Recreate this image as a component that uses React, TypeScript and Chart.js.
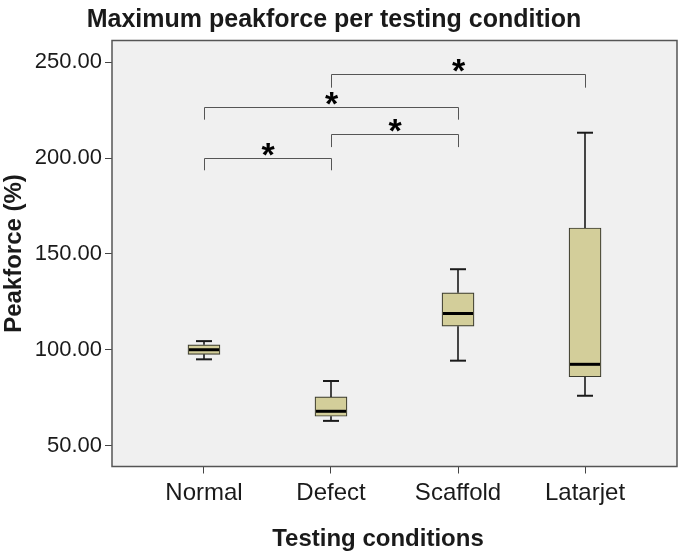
import React, { useEffect, useRef } from 'react';
import { Chart, registerables } from 'chart.js';

Chart.register(...registerables);

// ---- data ----
const categories = ['Normal', 'Defect', 'Scaffold', 'Latarjet'];
const whiskerLow = [95.0, 62.9, 94.3, 76.0];
const q1 = [97.6, 65.3, 112.3, 85.9];
const medians = [100.0, 67.9, 118.9, 92.4];
const q3 = [102.6, 75.4, 129.7, 163.5];
const whiskerHigh = [104.5, 83.7, 142.0, 213.2];
const yTicks = [50, 100, 150, 200, 250];
const yMin = 39.1;
const yMax = 261.3;

// significance brackets (category indices and y values)
const bracketFrom = [0, 1, 0, 1];
const bracketTo = [1, 2, 2, 3];
const bracketLevel = [200.2, 212.3, 226.8, 243.7];
const bracketLegEnd = [193.6, 205.7, 220.0, 236.7];
const bracketMark = ['*', '*', '*', '*'];

const titleText = 'Maximum peakforce per testing condition';
const xTitleText = 'Testing conditions';
const yTitleText = 'Peakforce (%)';

const FONT = '"Liberation Sans", Arial, sans-serif';
const TEXT = '#1a1a1a';

const boxPlugin = {
  id: 'boxExtras',
  beforeDraw(chart: any) {
    const { ctx, chartArea: a } = chart;
    ctx.save();
    ctx.fillStyle = '#f0f0f0';
    ctx.fillRect(a.left, a.top, a.right - a.left, a.bottom - a.top);
    ctx.restore();
  },
  afterDatasetsDraw(chart: any) {
    const { ctx } = chart;
    const xs = chart.scales.x;
    const ys = chart.scales.y;
    const line = (x1: number, y1: number, x2: number, y2: number) => {
      ctx.beginPath();
      ctx.moveTo(x1, y1);
      ctx.lineTo(x2, y2);
      ctx.stroke();
    };
    ctx.save();
    categories.forEach((_, i) => {
      const cx = Math.round(xs.getPixelForValue(i));
      const half = 16;
      const cap = 8;
      const yq1 = ys.getPixelForValue(q1[i]);
      const yq3 = ys.getPixelForValue(q3[i]);
      const ylo = ys.getPixelForValue(whiskerLow[i]);
      const yhi = ys.getPixelForValue(whiskerHigh[i]);
      const ym = ys.getPixelForValue(medians[i]);
      ctx.strokeStyle = '#1a1a1a';
      ctx.lineWidth = 1.6;
      line(cx, yq3, cx, yhi);
      line(cx, yq1, cx, ylo);
      ctx.lineWidth = 2;
      line(cx - cap, yhi, cx + cap, yhi);
      line(cx - cap, ylo, cx + cap, ylo);
      ctx.strokeStyle = '#000';
      ctx.lineWidth = 3;
      line(cx - half + 1, ym, cx + half - 1, ym);
    });

    // brackets
    ctx.strokeStyle = '#555';
    ctx.lineWidth = 1;
    ctx.font = `bold 34px ${FONT}`;
    ctx.fillStyle = '#000';
    ctx.textAlign = 'center';
    ctx.textBaseline = 'alphabetic';
    bracketFrom.forEach((f, k) => {
      const x1 = Math.round(xs.getPixelForValue(f)) + 0.5;
      const x2 = Math.round(xs.getPixelForValue(bracketTo[k])) + 0.5;
      const yl = Math.round(ys.getPixelForValue(bracketLevel[k])) + 0.5;
      const ye = ys.getPixelForValue(bracketLegEnd[k]);
      ctx.beginPath();
      ctx.moveTo(x1, ye);
      ctx.lineTo(x1, yl);
      ctx.lineTo(x2, yl);
      ctx.lineTo(x2, ye);
      ctx.stroke();
      const m = ctx.measureText(bracketMark[k]);
      const asc = m.actualBoundingBoxAscent;
      const desc = m.actualBoundingBoxDescent;
      const cy = yl - 9;
      const baseline = cy + (asc - desc) / 2;
      ctx.fillText(bracketMark[k], (x1 + x2) / 2, baseline);
    });
    ctx.restore();
  },
  afterDraw(chart: any) {
    const { ctx, chartArea: a } = chart;
    ctx.save();
    ctx.strokeStyle = '#555';
    ctx.lineWidth = 1.5;
    ctx.strokeRect(a.left, a.top, a.right - a.left, a.bottom - a.top);

    ctx.fillStyle = TEXT;
    ctx.textAlign = 'center';
    ctx.textBaseline = 'alphabetic';
    ctx.font = `bold 25px ${FONT}`;
    ctx.fillText(titleText, 334, 27);
    ctx.font = `bold 24px ${FONT}`;
    ctx.fillText(xTitleText, 378, 546);
    ctx.restore();
  },
};

export default function App() {
  const ref = useRef<HTMLCanvasElement | null>(null);
  useEffect(() => {
    const canvas = ref.current;
    if (!canvas) return;
    const chart = new Chart(canvas, {
      type: 'bar',
      data: {
        datasets: [
          {
            data: categories.map((_, i) => ({ x: i, y: [q1[i], q3[i]] })) as any,
            backgroundColor: '#d3ce9a',
            borderColor: '#3b3b2e',
            borderWidth: 1.2,
            borderSkipped: false,
            barThickness: 32,
          } as any,
        ],
      },
      options: {
        animation: false,
        responsive: false,
        devicePixelRatio: 1,
        layout: { padding: { top: 40.5, right: 3, left: 0, bottom: 0 } },
        plugins: {
          legend: { display: false },
          tooltip: { enabled: false },
          title: { display: false },
        },
        scales: {
          x: {
            type: 'linear',
            min: -0.724,
            max: 3.724,
            offset: false,
            afterBuildTicks: (s: any) => {
              s.ticks = categories.map((_, i) => ({ value: i }));
            },
            afterFit: (s: any) => {
              s.height = 86.5;
            },
            ticks: {
              callback: (v: any) => categories[v] ?? '',
              font: { family: FONT, size: 24 },
              color: TEXT,
              padding: 5,
              autoSkip: false,
              maxRotation: 0,
            },
            grid: {
              display: true,
              offset: false,
              drawOnChartArea: false,
              drawTicks: true,
              tickLength: 7,
              tickColor: '#444',
              tickWidth: 1,
            },
            border: { display: false },
          },
          y: {
            type: 'linear',
            min: yMin,
            max: yMax,
            afterBuildTicks: (s: any) => {
              s.ticks = yTicks.map((v) => ({ value: v }));
            },
            afterFit: (s: any) => {
              s.width = 112;
            },
            ticks: {
              callback: (v: any) => Number(v).toFixed(2),
              font: { family: FONT, size: 22 },
              color: TEXT,
              padding: 3,
            },
            grid: {
              display: true,
              offset: false,
              drawOnChartArea: false,
              drawTicks: true,
              tickLength: 7,
              tickColor: '#444',
              tickWidth: 1,
            },
            border: { display: false },
            title: {
              display: true,
              text: yTitleText,
              font: { family: FONT, size: 24, weight: 'bold' },
              color: TEXT,
              padding: { top: 0, bottom: 0 },
            },
          },
        },
      } as any,
      plugins: [boxPlugin],
    });
    return () => chart.destroy();
  }, []);

  return (
    <div style={{ position: 'absolute', left: 0, top: 0, width: 680, height: 553, background: '#fff' }}>
      <canvas ref={ref} width={680} height={553} style={{ display: 'block' }} />
    </div>
  );
}
